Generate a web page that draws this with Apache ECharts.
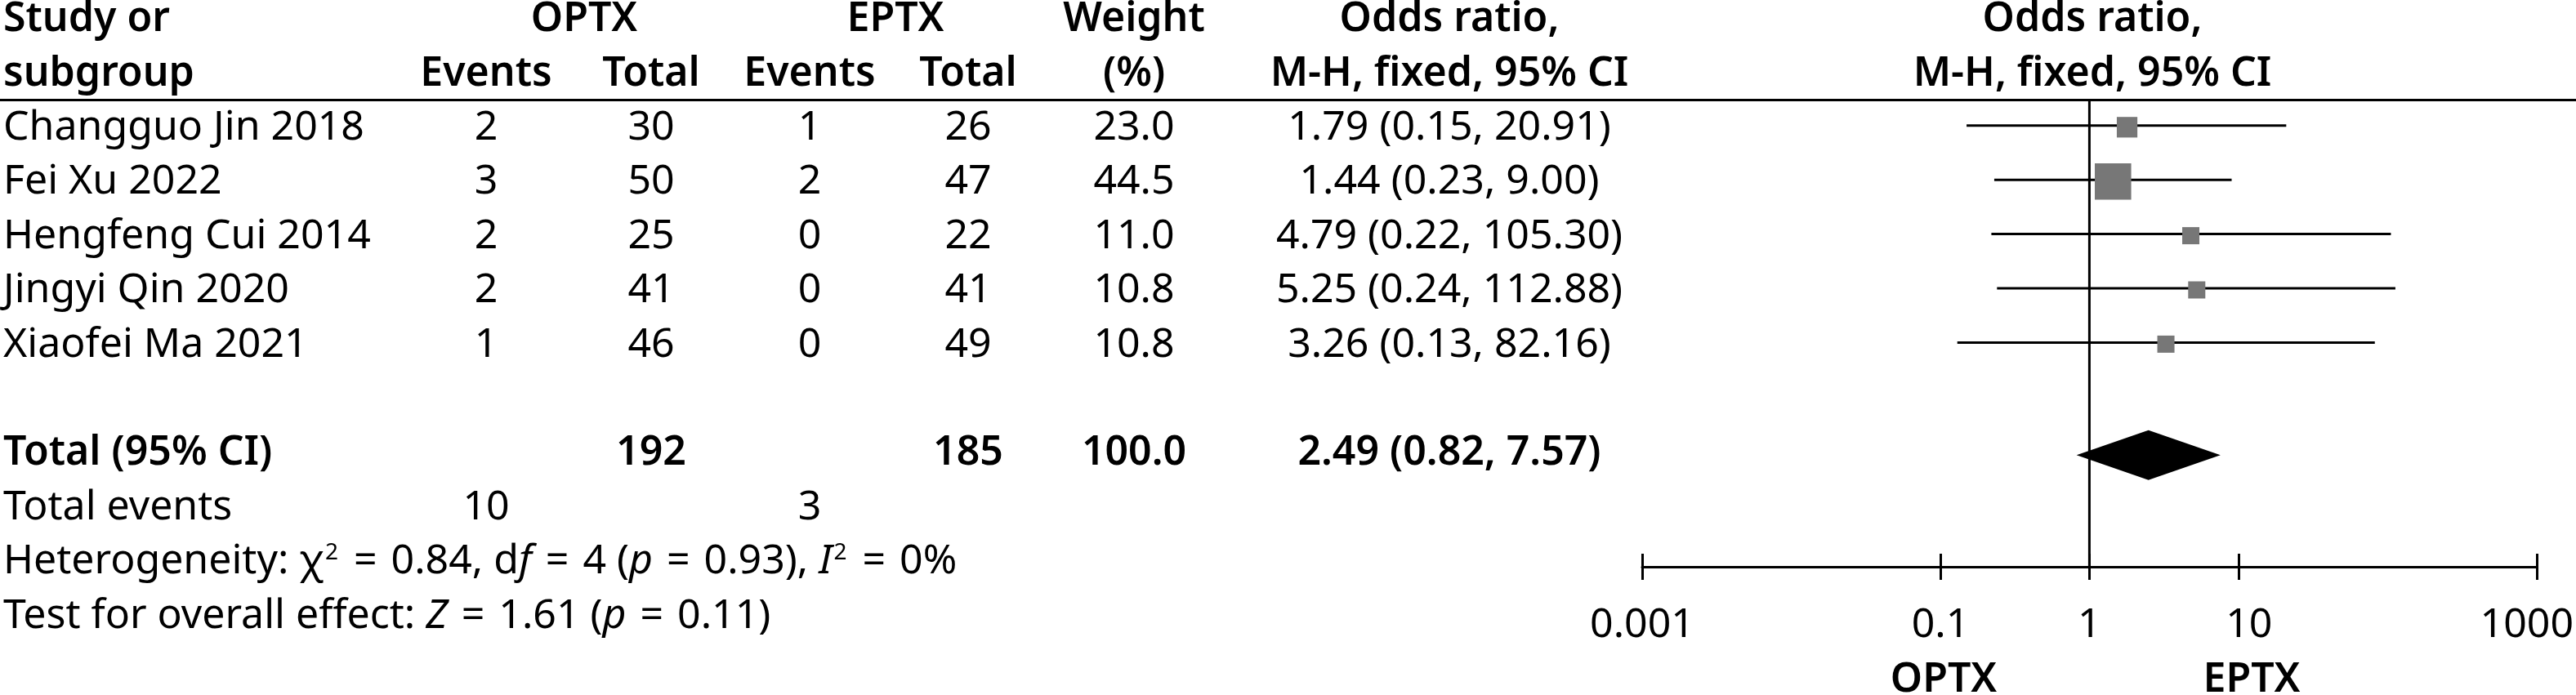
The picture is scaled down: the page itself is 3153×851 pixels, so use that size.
<!DOCTYPE html>
<html>
<head>
<meta charset="utf-8">
<script src="https://cdn.jsdelivr.net/npm/echarts@6/dist/echarts.min.js"></script>
<style>
html,body{margin:0;padding:0;background:#fff;}
#chart{width:3153px;height:851px;}
</style>
</head>
<body>
<div id="chart"></div>
<script>
// ---------------- DATA ----------------
const studies = ['Changguo Jin 2018', 'Fei Xu 2022', 'Hengfeng Cui 2014', 'Jingyi Qin 2020', 'Xiaofei Ma 2021'];
const optxEvents = [2, 3, 2, 2, 1];
const optxTotal = [30, 50, 25, 41, 46];
const eptxEvents = [1, 2, 0, 0, 0];
const eptxTotal = [26, 47, 22, 41, 49];
const weights = [23.0, 44.5, 11.0, 10.8, 10.8];
const oddsRatio = [1.79, 1.44, 4.79, 5.25, 3.26];
const ciLower = [0.15, 0.23, 0.22, 0.24, 0.13];
const ciUpper = [20.91, 9.00, 105.30, 112.88, 82.16];
const pooledEstimate = [2.49, 0.82, 7.57];          // OR, lower, upper
const groupTotals = [192, 185];                    // OPTX, EPTX
const groupEvents = [10, 3];                       // OPTX, EPTX
const totalWeight = 100.0;
const heterogeneity = [0.84, 4, 0.93, 0];          // chi2, df, p, I2
const overallEffect = [1.61, 0.11];                // Z, p
const groupNames = ['OPTX', 'EPTX'];
const tickValues = [0.001, 0.1, 1, 10, 1000];
const tickLabels = ['0.001', '0.1', '1', '10', '1000'];

// ---------------- LAYOUT ----------------
const W = 3153, H = 851;
const ROW0 = 21, ROW_H = 66.4;
const Y_MIN = -ROW0 / ROW_H;
const Y_MAX_FULL = Y_MIN + H / ROW_H;
const AXIS_Y = 694;
const Y_MAX_FOREST = Y_MIN + AXIS_Y / ROW_H;
const PLOT_LEFT = 2010, PLOT_RIGHT = 3106;
const HEADER_LINE_ROW = 1.53;
const BOTTOM_LABEL_ROW = 12.18;
const TEXT_DY = 3;
const COL = {study: 4, optxHead: 715, eptxHead: 1096, optxEv: 595, optxTot: 797,
             eptxEv: 991, eptxTot: 1185, weight: 1388, or: 1774, plot: 2561,
             optxLabel: 2379, eptxLabel: 2756};
const FONT = "'Noto Sans', 'Open Sans', sans-serif";
const FS = 50;
const LOG_TICKS = tickValues.map(v => Math.log10(v));
const LABEL_SHIFT = [0, 0, 0, 26, -24];

// ---------------- TABLE CELLS ----------------
const cells = [];
function cell(x, row, text, align, bold, rich) {
  cells.push({x, row, text: String(text), align: align || 'center', bold: !!bold, rich: !!rich});
}
cell(COL.study, 0, 'Study or', 'left', true);
cell(COL.study, 1, 'subgroup', 'left', true);
cell(COL.optxHead, 0, groupNames[0], 'center', true);
cell(COL.eptxHead, 0, groupNames[1], 'center', true);
cell(COL.optxEv, 1, 'Events', 'center', true);
cell(COL.optxTot, 1, 'Total', 'center', true);
cell(COL.eptxEv, 1, 'Events', 'center', true);
cell(COL.eptxTot, 1, 'Total', 'center', true);
cell(COL.weight, 0, 'Weight', 'center', true);
cell(COL.weight, 1, '(%)', 'center', true);
cell(COL.or, 0, 'Odds ratio,', 'center', true);
cell(COL.or, 1, 'M-H, fixed, 95% CI', 'center', true);
cell(COL.plot, 0, 'Odds ratio,', 'center', true);
cell(COL.plot, 1, 'M-H, fixed, 95% CI', 'center', true);

const fmtCI = (o, l, u) => o.toFixed(2) + ' (' + l.toFixed(2) + ', ' + u.toFixed(2) + ')';
studies.forEach((s, i) => {
  const r = 2 + i;
  cell(COL.study, r, s, 'left');
  cell(COL.optxEv, r, optxEvents[i]);
  cell(COL.optxTot, r, optxTotal[i]);
  cell(COL.eptxEv, r, eptxEvents[i]);
  cell(COL.eptxTot, r, eptxTotal[i]);
  cell(COL.weight, r, weights[i].toFixed(1));
  cell(COL.or, r, fmtCI(oddsRatio[i], ciLower[i], ciUpper[i]));
});
const TOTAL_ROW = 2 + studies.length + 1;
cell(COL.study, TOTAL_ROW, 'Total (95% CI)', 'left', true);
cell(COL.optxTot, TOTAL_ROW, groupTotals[0], 'center', true);
cell(COL.eptxTot, TOTAL_ROW, groupTotals[1], 'center', true);
cell(COL.weight, TOTAL_ROW, totalWeight.toFixed(1), 'center', true);
cell(COL.or, TOTAL_ROW, fmtCI(pooledEstimate[0], pooledEstimate[1], pooledEstimate[2]), 'center', true);
cell(COL.study, TOTAL_ROW + 1, 'Total events', 'left');
cell(COL.optxEv, TOTAL_ROW + 1, groupEvents[0]);
cell(COL.eptxEv, TOTAL_ROW + 1, groupEvents[1]);
cell(COL.study, TOTAL_ROW + 2,
  'Heterogeneity: \u03C7{sup|2} {eq|=} ' + heterogeneity[0].toFixed(2) + ', d{it|f} {eq|=} ' + heterogeneity[1] +
  ' ({it|p} {eq|=} ' + heterogeneity[2].toFixed(2) + '), {it|I}{sup|2} {eq|=} ' + heterogeneity[3] + '%', 'left', false, true);
cell(COL.study, TOTAL_ROW + 3,
  'Test for overall effect: {it|Z} {eq|=} ' + overallEffect[0].toFixed(2) + ' ({it|p} {eq|=} ' + overallEffect[1].toFixed(2) + ')',
  'left', false, true);
cell(COL.optxLabel, BOTTOM_LABEL_ROW, groupNames[0], 'center', true);
cell(COL.eptxLabel, BOTTOM_LABEL_ROW, groupNames[1], 'center', true);

const RICH = {
  sup: {fontFamily: FONT, fontSize: 28, lineHeight: 40, verticalAlign: 'top', fill: '#000', padding: [0, 2, 0, 2]},
  it: {fontFamily: FONT, fontSize: FS, lineHeight: 50, fontStyle: 'italic', fill: '#000'},
  eq: {fontFamily: FONT, fontSize: FS, lineHeight: 50, fill: '#000', padding: [0, 4, 0, 4]}
};

// ---------------- CHART ----------------
const chart = echarts.init(document.getElementById('chart'), null, {renderer: 'canvas'});
const boxSize = w => Math.max(21, 0.9 * w + 4.5);

const studyData = studies.map((s, i) => [Math.log10(oddsRatio[i]), Math.log10(ciLower[i]), Math.log10(ciUpper[i]), 2 + i, weights[i]]);
const pooledData = [[Math.log10(pooledEstimate[0]), Math.log10(pooledEstimate[1]), Math.log10(pooledEstimate[2]), TOTAL_ROW]];

const option = {
  animation: false,
  backgroundColor: '#fff',
  textStyle: {fontFamily: FONT},
  grid: [
    {left: 0, right: 0, top: 0, bottom: 0},
    {left: PLOT_LEFT, right: W - PLOT_RIGHT, top: 0, height: AXIS_Y}
  ],
  xAxis: [
    {gridIndex: 0, type: 'value', min: 0, max: W, show: false},
    {gridIndex: 1, type: 'value', min: -3, max: 3, position: 'bottom',
      axisLine: {show: true, onZero: false, lineStyle: {color: '#000', width: 3}},
      axisTick: {show: true, inside: true, length: 16, customValues: LOG_TICKS, lineStyle: {color: '#000', width: 3}},
      axisLabel: {show: true, customValues: LOG_TICKS, margin: 47, color: '#000', fontSize: FS, fontFamily: FONT,
        formatter: v => {
          const i = LOG_TICKS.findIndex(t => Math.abs(t - v) < 1e-9);
          return i < 0 ? '' : '{t' + i + '|' + tickLabels[i] + '}';
        },
        rich: Object.fromEntries(LABEL_SHIFT.map((d, i) => ['t' + i, {
          fontSize: FS, fontFamily: FONT, color: '#000',
          padding: d >= 0 ? [0, 0, 0, d] : [0, -d, 0, 0]
        }]))
      },
      splitLine: {show: false}
    },
    {gridIndex: 1, type: 'value', min: -3, max: 3, position: 'bottom',
      axisLine: {show: false, onZero: false},
      axisTick: {show: true, inside: false, length: 16, customValues: LOG_TICKS, lineStyle: {color: '#000', width: 3}},
      axisLabel: {show: false},
      splitLine: {show: false}
    }
  ],
  yAxis: [
    {gridIndex: 0, type: 'value', min: Y_MIN, max: Y_MAX_FULL, inverse: true, show: false},
    {gridIndex: 1, type: 'value', min: Y_MIN, max: Y_MAX_FOREST, inverse: true, show: false}
  ],
  series: [
    { // header rule
      type: 'custom', xAxisIndex: 0, yAxisIndex: 0, silent: true,
      data: [[0, HEADER_LINE_ROW]],
      renderItem: (params, api) => {
        const a = api.coord([0, api.value(1)]);
        const b = api.coord([W, api.value(1)]);
        return {type: 'line', shape: {x1: a[0], y1: a[1], x2: b[0], y2: b[1]}, style: {stroke: '#000', lineWidth: 3}};
      }
    },
    { // table text
      type: 'custom', xAxisIndex: 0, yAxisIndex: 0, silent: true,
      data: cells.map(c => [c.x, c.row]),
      renderItem: (params, api) => {
        const c = cells[params.dataIndex];
        const p = api.coord([api.value(0), api.value(1)]);
        const style = {
          text: c.text, fill: '#000', fontFamily: FONT, fontSize: FS,
          fontWeight: c.bold ? 600 : 'normal', align: c.align, verticalAlign: 'middle', lineHeight: 50
        };
        if (c.rich) style.rich = RICH;
        return {type: 'text', x: p[0], y: p[1] + TEXT_DY, style};
      }
    },
    { // line of no effect
      type: 'custom', xAxisIndex: 1, yAxisIndex: 1, silent: true,
      data: [[0, HEADER_LINE_ROW]],
      renderItem: (params, api) => {
        const a = api.coord([api.value(0), api.value(1)]);
        const b = api.coord([api.value(0), Y_MAX_FOREST]);
        return {type: 'line', shape: {x1: a[0], y1: a[1], x2: b[0], y2: b[1]}, style: {stroke: '#000', lineWidth: 3}};
      }
    },
    { // study CIs and boxes
      type: 'custom', xAxisIndex: 1, yAxisIndex: 1, silent: true,
      encode: {x: [0, 1, 2], y: 3},
      data: studyData,
      renderItem: (params, api) => {
        const row = api.value(3);
        const lo = api.coord([api.value(1), row]);
        const hi = api.coord([api.value(2), row]);
        const c = api.coord([api.value(0), row]);
        const s = boxSize(api.value(4));
        return {type: 'group', children: [
          {type: 'line', shape: {x1: lo[0], y1: lo[1], x2: hi[0], y2: hi[1]}, style: {stroke: '#000', lineWidth: 3}},
          {type: 'rect', shape: {x: c[0] - s / 2, y: c[1] - s / 2 + 2, width: s, height: s}, style: {fill: '#777777'}}
        ]};
      }
    },
    { // pooled diamond
      type: 'custom', xAxisIndex: 1, yAxisIndex: 1, silent: true,
      encode: {x: [0, 1, 2], y: 3},
      data: pooledData,
      renderItem: (params, api) => {
        const row = api.value(3);
        const lo = api.coord([api.value(1), row]);
        const hi = api.coord([api.value(2), row]);
        const c = api.coord([api.value(0), row]);
        const dy = 5, h = 30.5;
        return {type: 'polygon', shape: {points: [
          [lo[0], lo[1] + dy], [c[0], c[1] + dy - h], [hi[0], hi[1] + dy], [c[0], c[1] + dy + h]
        ]}, style: {fill: '#000'}};
      }
    }
  ]
};
chart.setOption(option);
</script>
</body>
</html>
